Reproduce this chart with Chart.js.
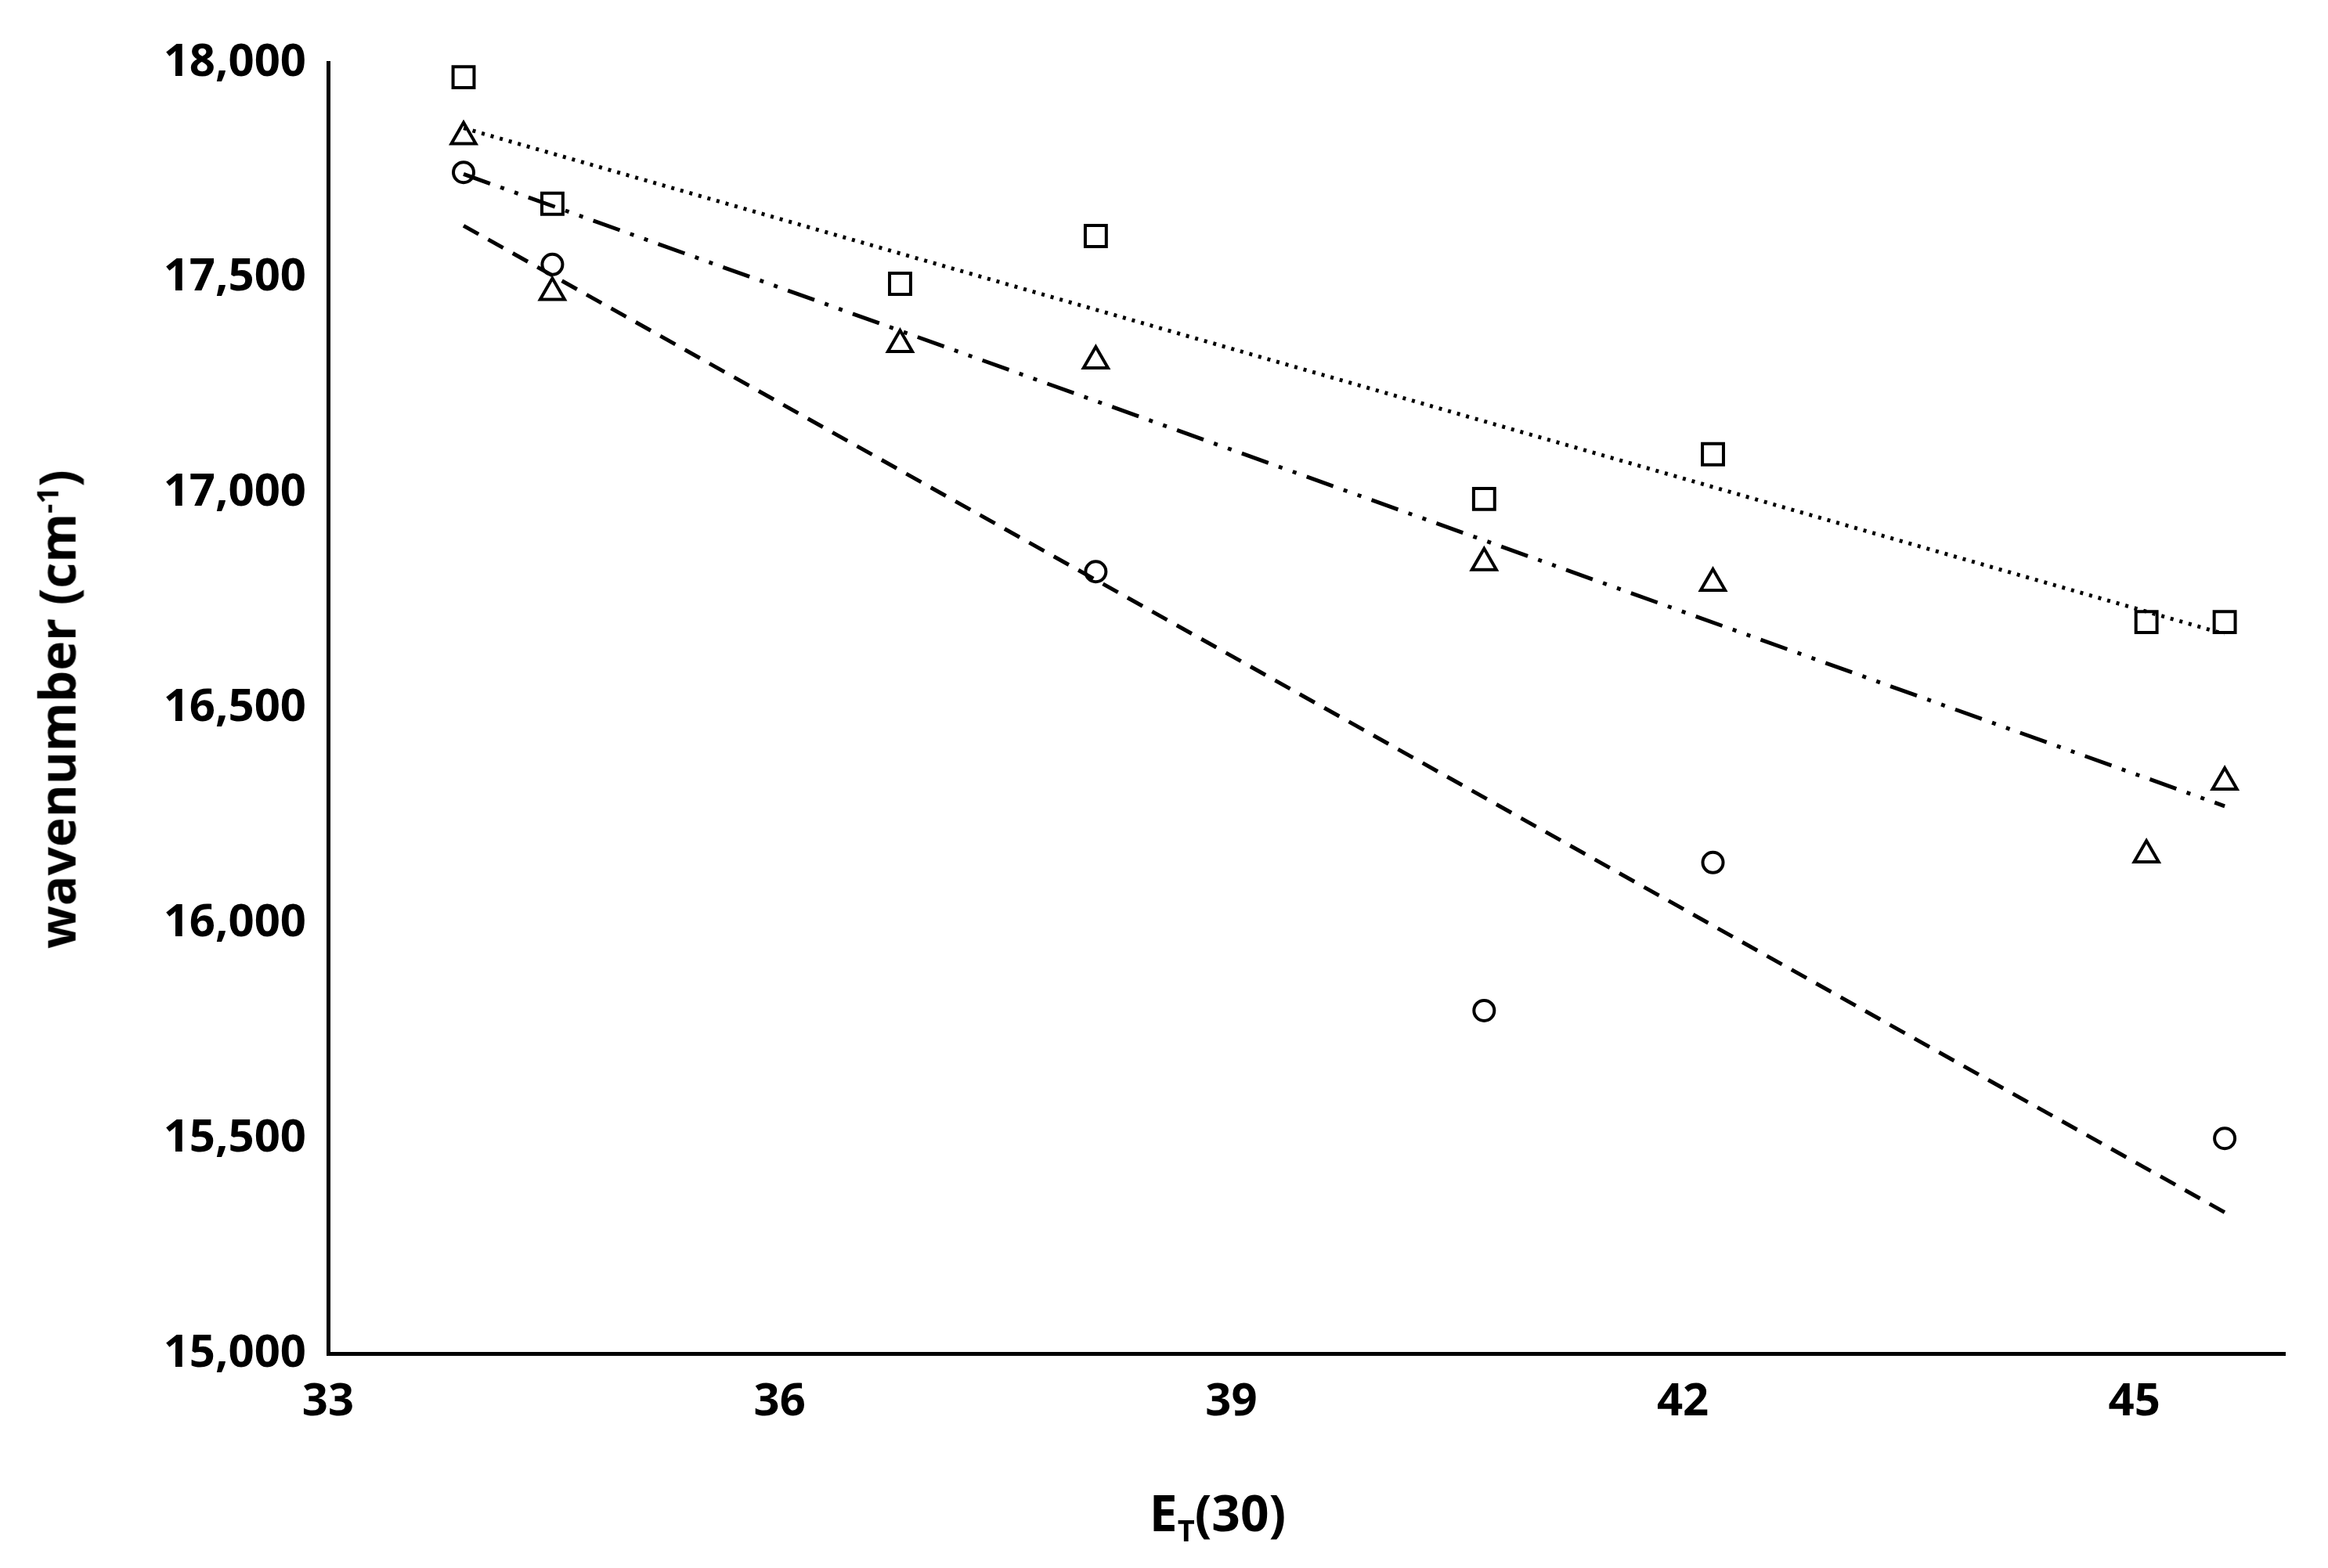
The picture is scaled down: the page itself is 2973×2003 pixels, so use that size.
<!DOCTYPE html>
<html><head><meta charset="utf-8">
<script src="https://cdn.jsdelivr.net/npm/chart.js@4/dist/chart.umd.min.js"></script>
<style>
html,body{margin:0;padding:0;background:#fff;}
#wrap{position:relative;width:2973px;height:2003px;}
.t{position:absolute;font-family:"Open Sans",sans-serif;font-weight:bold;font-size:64px;color:#000;white-space:nowrap;}
.t sub,.t sup{font-size:38px;}
</style></head><body>
<div id="wrap"><canvas id="c" width="2973" height="2003"></canvas>
<div class="t" id="xt" style="left:1555px;top:1934px;transform:translate(-50%,-50%);">E<sub>T</sub>(30)</div>
<div class="t" id="yt" style="left:72px;top:906px;transform:translate(-50%,-50%) rotate(-90deg);">wavenumber (cm<sup>-1</sup>)</div>
</div>
<script>
const squareX=[33.9,34.49,36.8,38.1,40.68,42.2,45.08,45.6];
const squareY=[17966,17672,17486,17597,16986,17090,16700,16700];
const triX=[33.9,34.49,36.8,38.1,40.68,42.2,45.08,45.6];
const triY=[17828,17466,17345,17307,16838,16790,16159,16328];
const circX=[33.9,34.49,38.1,40.68,42.2,45.6];
const circY=[17745,17531,16817,15797,16141,15500];
const fitX=[33.9,45.6];
const fitSquare=[17848,16672];
const fitTri=[17741,16272];
const fitCirc=[17621,15328];
const xTicks=[33,36,39,42,45];
const yTicks=[15000,15500,16000,16500,17000,17500,18000];
const pts=(xs,ys)=>xs.map((x,i)=>({x:x,y:ys[i]}));
const ptStyle=(s,r)=>({type:'scatter',pointStyle:s,pointRadius:r,pointHoverRadius:r,pointBorderWidth:4,pointBorderColor:'#000',pointBackgroundColor:'rgba(0,0,0,0)',showLine:false});
const lineStyle=(d)=>({type:'line',showLine:true,pointRadius:0,borderColor:'#000',borderWidth:5,borderDash:d,fill:false});
new Chart(document.getElementById('c'),{
 data:{datasets:[
  Object.assign({data:pts(squareX,squareY)},ptStyle('rect',19)),
  Object.assign({data:pts(triX,triY)},ptStyle('triangle',18)),
  Object.assign({data:pts(circX,circY)},ptStyle('circle',13)),
  Object.assign({data:pts(fitX,fitSquare)},lineStyle([4,8])),
  Object.assign({data:pts(fitX,fitTri)},lineStyle([36,14,5,14,5,14])),
  Object.assign({data:pts(fitX,fitCirc)},lineStyle([22,14]))
 ]},
 options:{responsive:false,animation:false,devicePixelRatio:1,
  layout:{padding:{top:80,right:55,left:0,bottom:0}},
  plugins:{legend:{display:false},tooltip:{enabled:false}},
  scales:{
   x:{type:'linear',min:33,max:46,
    afterBuildTicks:s=>{s.ticks=xTicks.map(v=>({value:v}));},
    afterFit:s=>{s.height=274;},
    grid:{display:false,drawTicks:true,tickLength:14,tickColor:'#000',tickWidth:5},
    border:{color:'#000',width:5},
    ticks:{color:'#000',padding:14,font:{family:'Open Sans',weight:'bold',size:58}}},
   y:{type:'linear',min:15000,max:18000,
    afterBuildTicks:s=>{s.ticks=yTicks.map(v=>({value:v}));},
    afterFit:s=>{s.width=419;},
    grid:{display:false,drawTicks:true,tickLength:14,tickColor:'#000',tickWidth:5},
    border:{color:'#000',width:5},
    ticks:{color:'#000',padding:14,font:{family:'Open Sans',weight:'bold',size:58},
     callback:v=>v.toLocaleString('en-US')}}
  }}
});
</script></body></html>
